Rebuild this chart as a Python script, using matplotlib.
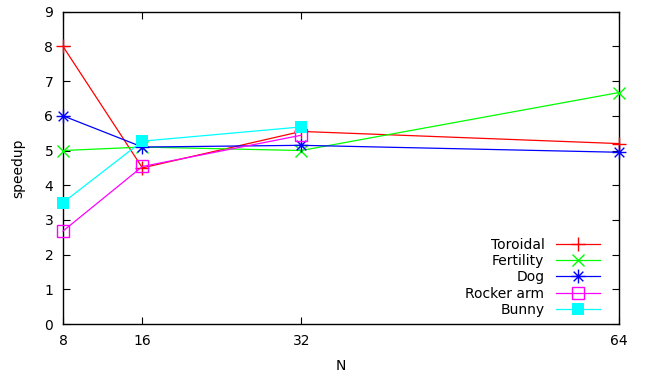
import matplotlib
matplotlib.use('Agg')
import matplotlib.pyplot as plt
from matplotlib.path import Path

# Problem size and measured speedups
n_values = [8, 16, 32, 64]
toroidal = [8.0, 4.5, 5.55, 5.2]
fertility = [5.0, 5.1, 5.0, 6.67]
dog = [6.0, 5.1, 5.15, 4.95]
rocker_n = [8, 16, 32]
rocker_arm = [2.68, 4.54, 5.44]
bunny_n = [8, 16, 32]
bunny = [3.5, 5.27, 5.68]

# gnuplot-style asterisk: "+" and "x" combined
star = Path([(-1, 0), (1, 0), (0, -1), (0, 1),
             (-0.7, -0.7), (0.7, 0.7), (-0.7, 0.7), (0.7, -0.7)],
            [Path.MOVETO, Path.LINETO] * 4)

fig = plt.figure(figsize=(6.46, 3.76), dpi=100)
ax = fig.add_axes([0.0975, 0.138, 0.8605, 0.831])

lw = 0.9
common = dict(lw=lw, mew=1, clip_on=False, zorder=3)
ax.plot(n_values, toroidal, color='#ff0000', marker='+', ms=10, label='Toroidal', **common)
ax.plot(n_values, fertility, color='#00ff00', marker='x', ms=8, label='Fertility', **common)
ax.plot(n_values, dog, color='#0000ff', marker=star, ms=10, mfc='none', label='Dog', **common)
ax.plot(rocker_n, rocker_arm, color='#ff00ff', marker='s', ms=8, mfc='none', label='Rocker arm', **common)
ax.plot(bunny_n, bunny, color='#00ffff', marker='s', ms=8, mew=0, lw=lw, clip_on=False, zorder=3, label='Bunny')

ax.set_xlim(8, 64)
ax.set_ylim(0, 9)
ax.set_xticks(n_values)
ax.set_yticks(range(10))
ax.tick_params(direction='in', top=True, right=True, labelsize=10, length=5, width=0.8)
ax.tick_params(axis='y', pad=7)
ax.tick_params(axis='x', pad=7)
for s in ax.spines.values():
    s.set_linewidth(1)
ax.set_xlabel('N', fontsize=10, labelpad=8)
ax.set_ylabel('speedup', fontsize=10, labelpad=14)

ax.legend(loc='lower right', bbox_to_anchor=(0.976, 0.005), frameon=False, markerfirst=False,
          fontsize=10, handlelength=3.2, labelspacing=0.17, borderaxespad=0, handletextpad=0.8)

plt.savefig('out.png', dpi=100)
